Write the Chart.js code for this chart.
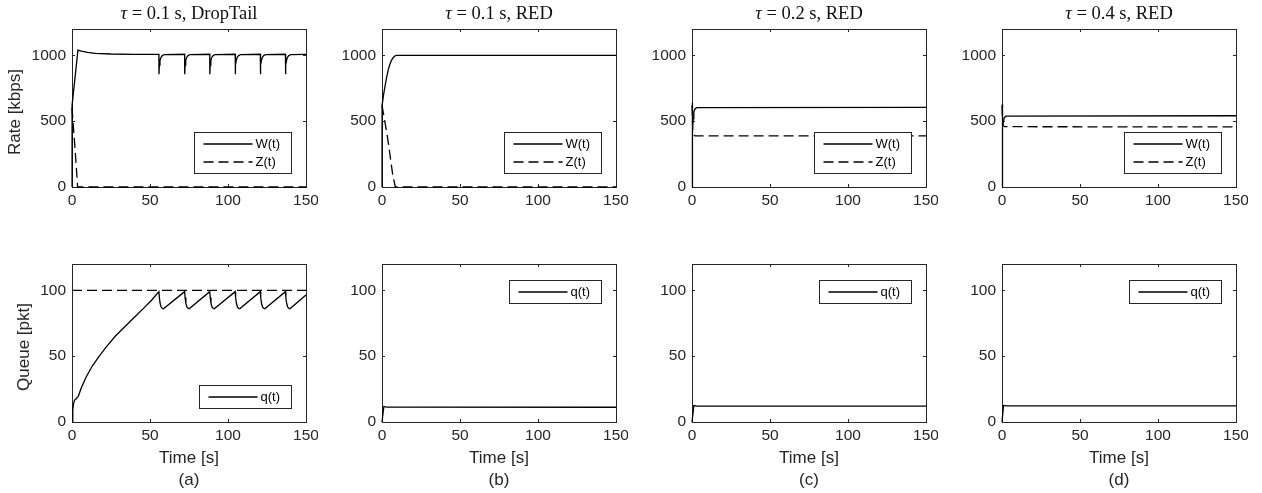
<!DOCTYPE html>
<html>
<head>
<meta charset="utf-8">
<script src="https://cdn.jsdelivr.net/npm/chart.js@4.4.1/dist/chart.umd.min.js"></script>
<style>
  html, body { margin: 0; padding: 0; background: #fff; }
  #fig { position: relative; width: 1262px; height: 493px; overflow: hidden;
         font-family: "Liberation Sans", Arial, sans-serif; color: #262626; }
  #fig canvas { position: absolute; }
  .lbl { position: absolute; transform: translate(-50%, -50%); white-space: nowrap; font-size: 17px; }
  .ylbl { transform: translate(-50%, -50%) rotate(-90deg); }
  .ttl { position: absolute; transform: translate(-50%, -50%); white-space: nowrap;
         font-family: "Liberation Serif", "Times New Roman", serif; font-size: 18.5px; color: #111; }
</style>
</head>
<body>
<div id="fig"></div>
<script>
// ---- data ----
const timeTicks = [0, 50, 100, 150];
const rateTicks = [0, 500, 1000];
const queueTicks = [0, 50, 100];

const titles = ["0.1 s, DropTail", "0.1 s, RED", "0.2 s, RED", "0.4 s, RED"];
const panelTags = ["(a)", "(b)", "(c)", "(d)"];

// [time s, rate kbps]
const wDropTail = [[0,0],[0.05,620],[3.8,1040],[6,1032],[10,1022],[15,1015],[25,1010],[40,1008],
  [55.7,1008],[55.75,856],[56,925],[56.4,960],[57,984],[57.9,998],[59.2,1006],
  [72.2,1008],[72.25,856],[72.5,925],[72.9,960],[73.5,984],[74.4,998],[75.7,1006],
  [88.3,1008],[88.35,856],[88.6,925],[89,960],[89.6,984],[90.5,998],[91.8,1006],
  [104.6,1008],[104.65,856],[104.9,925],[105.3,960],[105.9,984],[106.8,998],[108.1,1006],
  [120.7,1008],[120.75,856],[121,925],[121.4,960],[122,984],[122.9,998],[124.2,1006],
  [136.8,1008],[136.85,856],[137.1,925],[137.5,960],[138.1,984],[139,998],[140.3,1006],[150,1008]];
const zDropTail = [[0,600],[1,440],[2,280],[3,110],[3.6,0],[150,0]];

const wRed01 = [[0,0],[0.05,620],[1,700],[2,770],[3,835],[4,890],[5,930],[6,960],[7,980],[8,993],[9.1,1000],[150,1000]];
const zRed01 = [[0,620],[1.5,520],[3.1,410],[4.5,300],[5.5,210],[6.8,100],[8.5,0],[150,0]];

const wRed02 = [[0,0],[0.05,640],[0.3,520],[0.5,450],[0.8,520],[1.2,570],[2,595],[3,603],[150,605]];
const zRed02 = [[0,620],[0.2,560],[0.5,430],[1,395],[2,388],[150,388]];

const wRed04 = [[0,0],[0.05,630],[0.3,540],[0.6,470],[1,500],[1.5,528],[2.5,538],[150,541]];
const zRed04 = [[0,620],[0.3,520],[0.7,470],[1.5,458],[150,456]];

// [time s, queue pkt]
const qDropTail = [[0,0],[0.5,9],[1,14],[1.6,16.5],[2.5,17.5],[4,19.5],[6,26],[9,34],[13,42.5],[17.5,50],
  [22,57],[28,65.5],[34,72.5],[40,79.5],[46,86.5],[51,92.5],[55.7,99],
  [56,94.5],[56.5,90],[57.2,87.3],[58,86.2],[58.6,86],
  [72.2,99],[72.5,94.5],[73,90],[73.7,87.3],[74.5,86.2],[75.1,86],
  [88.3,99],[88.6,94.5],[89.1,90],[89.8,87.3],[90.6,86.2],[91.2,86],
  [104.6,99],[104.9,94.5],[105.4,90],[106.1,87.3],[106.9,86.2],[107.5,86],
  [120.7,99],[121,94.5],[121.5,90],[122.2,87.3],[123,86.2],[123.6,86],
  [136.8,99],[137.1,94.5],[137.6,90],[138.3,87.3],[139.1,86.2],[139.7,86],[150,96.5]];
const bufferLimit = [[0,100],[150,100]];
const qRed01 = [[0,0],[1.2,11.8],[3,11.3],[150,11.2]];
const qRed02 = [[0,0],[1.2,12.5],[3,12],[150,12]];
const qRed04 = [[0,0],[1,12.6],[3,12.3],[150,12.3]];

// ---- layout ----
const PLOT_X0 = 72, COL_STEP = 310, ROW_TOP = [29, 264];
const PLOT_W = 234, PLOT_H = 158;
const AXIS_W = 60, AXIS_H = 28, PAD_TOP = 10, PAD_RIGHT = 12;
const AX_COLOR = "#262626";
const FONT = '"Liberation Sans", Arial, sans-serif';

Chart.defaults.font.family = FONT;

const toXY = pts => pts.map(p => ({ x: p[0], y: p[1] }));

function line(label, pts, dashed, inLegend) {
  return {
    label,
    data: toXY(pts),
    borderColor: "#000",
    borderWidth: 1.3,
    borderDash: dashed ? [10, 5] : [],
    pointRadius: 0,
    tension: 0,
    clip: 1,
    inLegend
  };
}

// box + inward ticks on all four sides, like matlab
const matlabAxes = {
  id: "matlabAxes",
  beforeDatasetsDraw(chart) {
    const { ctx, chartArea: a, scales } = chart;
    ctx.save();
    ctx.strokeStyle = AX_COLOR;
    ctx.lineWidth = 1;
    ctx.strokeRect(a.left + 0.5, a.top + 0.5, a.right - a.left, a.bottom - a.top);
    ctx.beginPath();
    scales.x.ticks.forEach(t => {
      const px = Math.round(scales.x.getPixelForValue(t.value)) + 0.5;
      ctx.moveTo(px, a.bottom); ctx.lineTo(px, a.bottom - 3);
      ctx.moveTo(px, a.top); ctx.lineTo(px, a.top + 3);
    });
    scales.y.ticks.forEach(t => {
      const py = Math.round(scales.y.getPixelForValue(t.value)) + 0.5;
      ctx.moveTo(a.left, py); ctx.lineTo(a.left + 3, py);
      ctx.moveTo(a.right, py); ctx.lineTo(a.right - 3, py);
    });
    ctx.stroke();
    ctx.restore();
  }
};

// legend box inside the axes
const insetLegend = {
  id: "insetLegend",
  afterDraw(chart, args, opts) {
    const { ctx, chartArea: a } = chart;
    const items = chart.data.datasets.filter(d => d.inLegend);
    if (!items.length) return;
    ctx.save();
    ctx.font = "13px " + FONT;
    const textW = Math.max(...items.map(d => ctx.measureText(d.label).width));
    const w = Math.round(9 + 49 + 3 + textW + 11);
    const h = items.length * 18 + 5;
    const x0 = Math.round(a.right - 15 - w) + 0.5;
    const y0 = opts.corner === "ne" ? a.top + 16 + 0.5 : Math.round(a.bottom - 14 - h) + 0.5;
    ctx.fillStyle = "#fff";
    ctx.fillRect(x0, y0, w, h);
    ctx.strokeStyle = AX_COLOR;
    ctx.lineWidth = 1;
    ctx.strokeRect(x0, y0, w, h);
    items.forEach((d, i) => {
      const cy = Math.round(y0 + 2.5 + 9 + i * 18);
      ctx.beginPath();
      ctx.setLineDash(d.borderDash);
      ctx.strokeStyle = "#000";
      ctx.lineWidth = 1.3;
      ctx.moveTo(x0 + 9, cy);
      ctx.lineTo(x0 + 58, cy);
      ctx.stroke();
      ctx.setLineDash([]);
      ctx.fillStyle = "#000";
      ctx.textBaseline = "middle";
      ctx.fillText(d.label, x0 + 61, cy + 0.5);
    });
    ctx.restore();
  }
};

const panels = [
  { col: 0, row: 0, yMax: 1200, yTicks: rateTicks, corner: "se",
    datasets: [line("W(t)", wDropTail, false, true), line("Z(t)", zDropTail, true, true)] },
  { col: 1, row: 0, yMax: 1200, yTicks: rateTicks, corner: "se",
    datasets: [line("W(t)", wRed01, false, true), line("Z(t)", zRed01, true, true)] },
  { col: 2, row: 0, yMax: 1200, yTicks: rateTicks, corner: "se",
    datasets: [line("W(t)", wRed02, false, true), line("Z(t)", zRed02, true, true)] },
  { col: 3, row: 0, yMax: 1200, yTicks: rateTicks, corner: "se",
    datasets: [line("W(t)", wRed04, false, true), line("Z(t)", zRed04, true, true)] },
  { col: 0, row: 1, yMax: 120, yTicks: queueTicks, corner: "se",
    datasets: [line("q(t)", qDropTail, false, true), line("buffer", bufferLimit, true, false)] },
  { col: 1, row: 1, yMax: 120, yTicks: queueTicks, corner: "ne",
    datasets: [line("q(t)", qRed01, false, true)] },
  { col: 2, row: 1, yMax: 120, yTicks: queueTicks, corner: "ne",
    datasets: [line("q(t)", qRed02, false, true)] },
  { col: 3, row: 1, yMax: 120, yTicks: queueTicks, corner: "ne",
    datasets: [line("q(t)", qRed04, false, true)] }
];

const fig = document.getElementById("fig");

function addText(cls, html, x, y) {
  const el = document.createElement("div");
  el.className = cls;
  el.innerHTML = html;
  el.style.left = x + "px";
  el.style.top = y + "px";
  fig.appendChild(el);
}

panels.forEach(p => {
  const plotLeft = PLOT_X0 + p.col * COL_STEP;
  const plotTop = ROW_TOP[p.row];
  const canvas = document.createElement("canvas");
  const cw = AXIS_W + PLOT_W + PAD_RIGHT, ch = PAD_TOP + PLOT_H + AXIS_H;
  canvas.width = cw; canvas.height = ch;
  canvas.style.width = cw + "px"; canvas.style.height = ch + "px";
  canvas.style.left = (plotLeft - AXIS_W) + "px";
  canvas.style.top = (plotTop - PAD_TOP) + "px";
  fig.appendChild(canvas);

  const tickFont = { size: 15.5, family: FONT };
  new Chart(canvas.getContext("2d"), {
    type: "line",
    data: { datasets: p.datasets },
    options: {
      responsive: false,
      animation: false,
      layout: { padding: { left: 0, top: PAD_TOP, right: PAD_RIGHT, bottom: 0 } },
      scales: {
        x: {
          type: "linear", min: 0, max: 150,
          grid: { display: false, drawTicks: false },
          border: { display: false },
          ticks: { font: tickFont, color: AX_COLOR, padding: 4, maxRotation: 0, callback: v => String(v) },
          afterBuildTicks: s => { s.ticks = timeTicks.map(v => ({ value: v })); },
          afterFit: s => { s.height = AXIS_H; s.paddingLeft = 0; s.paddingRight = 0; }
        },
        y: {
          type: "linear", min: 0, max: p.yMax,
          grid: { display: false, drawTicks: false },
          border: { display: false },
          ticks: { font: tickFont, color: AX_COLOR, padding: 6, callback: v => String(v) },
          afterBuildTicks: s => { s.ticks = p.yTicks.map(v => ({ value: v })); },
          afterFit: s => { s.width = AXIS_W; s.paddingTop = 0; s.paddingBottom = 0; }
        }
      },
      plugins: {
        legend: { display: false },
        tooltip: { enabled: false },
        insetLegend: { corner: p.corner }
      }
    },
    plugins: [matlabAxes, insetLegend]
  });

  const cx = plotLeft + PLOT_W / 2;
  if (p.row === 0) {
    addText("ttl", "<i>τ</i> = " + titles[p.col], cx, 13);
  } else {
    addText("lbl", "Time [s]", cx, 458);
    addText("lbl", panelTags[p.col], cx, 480);
  }
});

addText("lbl ylbl", "Rate [kbps]", 15, ROW_TOP[0] + PLOT_H / 2 + 4);
addText("lbl ylbl", "Queue [pkt]", 24, ROW_TOP[1] + PLOT_H / 2 + 4);
</script>
</body>
</html>
